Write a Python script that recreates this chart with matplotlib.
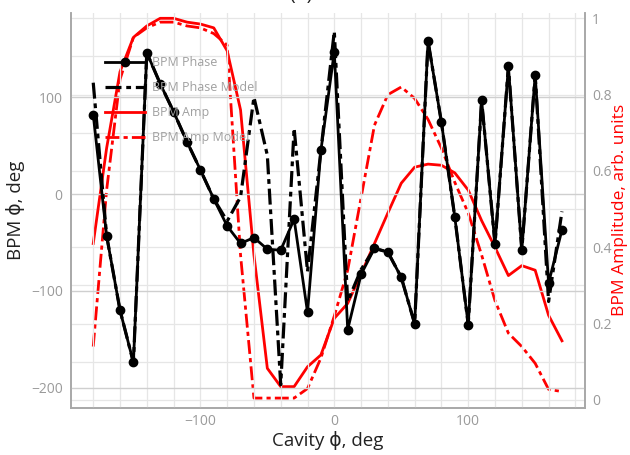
import matplotlib
matplotlib.use("Agg")
import matplotlib.pyplot as plt
import numpy as np

plt.rcParams['font.family'] = ['Open Sans', 'DejaVu Sans']

cavity_phase = list(range(-180, 171, 10))

bpm_phase = [82, -43, -120, -174, 146, 114, 85, 54, 25, -5,
             -33, -51, -45, -57, -58, -26, -122, 45, 147, -140,
             -83, -56, -60, -86, -134, 158, 74, -24, -135, 97,
             -52, 132, -58, 123, -92, -37]

bpm_phase_model = [115, -43, -120, -174, 146, 114, 85, 54, 25, -5,
                   -28, -3, 100, 40, -197, 68, -80, 45, 168, -111,
                   -78, -56, -60, -86, -134, 158, 74, -24, -135, 97,
                   -52, 132, -58, 123, -111, -18]

bpm_amp = [0.41, 0.66, 0.86, 0.95, 0.98, 1.0, 1.0, 0.99, 0.985, 0.975,
           0.915, 0.76, 0.38, 0.083, 0.035, 0.035, 0.087, 0.118, 0.214, 0.253,
           0.33, 0.41, 0.49, 0.568, 0.61, 0.618, 0.615, 0.595, 0.55, 0.47,
           0.40, 0.326, 0.352, 0.34, 0.222, 0.155]

bpm_amp_model = [0.14, 0.55, 0.84, 0.95, 0.975, 0.99, 0.99, 0.98, 0.975, 0.96,
                 0.93, 0.38, 0.005, 0.005, 0.005, 0.005, 0.03, 0.11, 0.22, 0.34,
                 0.53, 0.72, 0.80, 0.82, 0.79, 0.735, 0.66, 0.57, 0.49, 0.38,
                 0.26, 0.175, 0.14, 0.096, 0.028, 0.022]

x_ticks = [-100, 0, 100]
y_left_ticks = [-200, -100, 0, 100]
y_right_ticks = [0, 0.2, 0.4, 0.6, 0.8, 1]

fig = plt.figure(figsize=(6.3, 4.55), dpi=100)
ax = fig.add_axes([71/630, 47/455, 514/630, 395.3/455])
ax2 = ax.twinx()

tick_gray = '#9a9a9a'
axis_gray = '#a8a8a8'

# grids
for xv in np.arange(-180, 181, 20):
    ax.axvline(xv, color='#e6e6e6', lw=0.9, zorder=0)
for yv in y_left_ticks:
    ax.axhline(yv, color='#cfcfcf', lw=1.0, zorder=0)
for yv in np.arange(0, 1.01, 0.1):
    ax2.axhline(yv, color='#e6e6e6', lw=0.9, zorder=0)

dashdot = (0, (5, 1.5, 1.5, 1.5))

l3, = ax2.plot(cavity_phase, bpm_amp, color='#ff0000', lw=2.0, label='BPM Amp', zorder=3)
l4, = ax2.plot(cavity_phase, bpm_amp_model, color='#ff0000', lw=2.0, linestyle=dashdot,
               label='BPM Amp Model', zorder=3)
l2, = ax.plot(cavity_phase, bpm_phase_model, color='black', lw=2.3, linestyle=dashdot,
              label='BPM Phase Model', zorder=4)
l1, = ax.plot(cavity_phase, bpm_phase, color='black', lw=2.0, marker='o', markersize=6,
              label='BPM Phase', zorder=5)

ax.set_zorder(ax2.get_zorder() + 1)
ax.patch.set_visible(False)

ax.set_xlim(-196.6, 187.2)
ax.set_ylim(-221, 187.3)
ax2.set_ylim(-0.021, 1.0147)

ax.set_xticks(x_ticks)
ax.set_yticks(y_left_ticks)
ax2.set_yticks(y_right_ticks)
ax2.set_yticklabels(['0', '0.2', '0.4', '0.6', '0.8', '1'])

for a in (ax, ax2):
    a.tick_params(which='both', length=0, colors=tick_gray, labelsize=10)
    a.spines['top'].set_visible(False)
    for s in ('left', 'bottom', 'right'):
        a.spines[s].set_color(axis_gray)
        a.spines[s].set_linewidth(1.2)
ax.tick_params(axis='x', pad=4)
ax.tick_params(axis='y', pad=6)
ax2.tick_params(axis='y', pad=5)

ax.set_xlabel('Cavity ϕ, deg', fontsize=13.5, color='#222222', labelpad=2)
ax.set_ylabel('BPM ϕ, deg', fontsize=13.5, color='#222222', labelpad=4)
ax2.set_ylabel('BPM Amplitude, arb. units', fontsize=12.5, color='#ff0000', labelpad=0)

leg = ax.legend(handles=[l1, l2, l3, l4], loc='upper left', bbox_to_anchor=(0.045, 0.918),
                frameon=False, fontsize=9, labelcolor='#a0a0a0', handlelength=3.2,
                handletextpad=0.5, labelspacing=0.95)

fig.text(0.525, 1.012, '(a) BCMS', ha='center', va='center', fontsize=14, color='#222222')

fig.savefig('out.png', dpi=100)
